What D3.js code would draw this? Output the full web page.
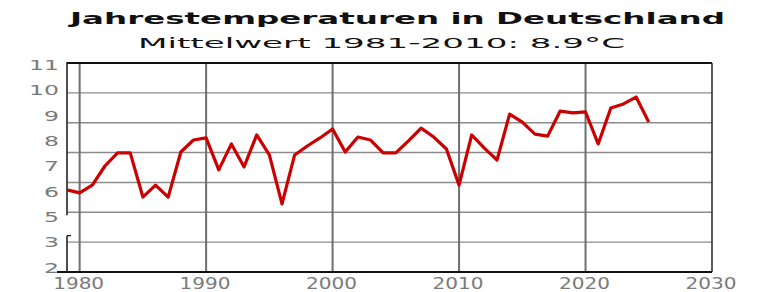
<!DOCTYPE html>
<html>
<head>
<meta charset="utf-8">
<script src="https://cdn.jsdelivr.net/npm/d3@7"></script>
<style>
body {
  margin: 0;
  background: white;
}
</style>
</head>
<body>
<div id="chart"></div>
<script>
// Jahresmittel (in Einheiten der Gitterlinien)
var years = [1979, 1980, 1981, 1982, 1983, 1984, 1985, 1986, 1987, 1988, 1989,
  1990, 1991, 1992, 1993, 1994, 1995, 1996, 1997, 1998, 1999,
  2000, 2001, 2002, 2003, 2004, 2005, 2006, 2007, 2008, 2009,
  2010, 2011, 2012, 2013, 2014, 2015, 2016, 2017, 2018, 2019,
  2020, 2021, 2022, 2023, 2024, 2025];
var temps = [6.75, 6.65, 6.91, 7.55, 7.99, 7.99, 6.51, 6.91, 6.51, 8.02, 8.42,
  8.49, 7.42, 8.29, 7.52, 8.59, 7.92, 6.28, 7.92, 8.22, 8.49,
  8.79, 8.02, 8.52, 8.42, 7.99, 7.99, 8.39, 8.82, 8.52, 8.12,
  6.91, 8.59, 8.15, 7.75, 9.29, 9.02, 8.62, 8.55, 9.39, 9.33,
  9.36, 8.29, 9.49, 9.63, 9.86, 9.02];

var xTicks = [1980, 1990, 2000, 2010, 2020, 2030];
var yGrid = [4, 5, 6, 7, 8, 9, 10];
var yLabels = ["11", "10", "9", "8", "7", "6", "5", "3", "2"];

var W = 760, H = 292;
var svg = d3.select("#chart").append("svg")
  .attr("width", W)
  .attr("height", H);

var xScale = d3.scaleLinear().domain([1979, 2030]).range([67, 712]);
var yScale = d3.scaleLinear().domain([4, 11]).range([272, 63]);
// the labels do not sit on the grid lines in the picture
var labelScale = d3.scalePoint().domain(yLabels).range([65, 268]);

var x0 = xScale(1979), x1 = xScale(2030);
var yTop = yScale(11), yBot = yScale(4);

// horizontal grid
svg.append("g").selectAll("line")
  .data(yGrid).enter().append("line")
  .attr("x1", x0).attr("x2", x1)
  .attr("y1", d => yScale(d)).attr("y2", d => yScale(d))
  .attr("stroke", "#8c8c8c")
  .attr("stroke-width", 1.4);

// vertical grid
svg.append("g").selectAll("line")
  .data(xTicks.slice(0, 5)).enter().append("line")
  .attr("x1", d => xScale(d)).attr("x2", d => xScale(d))
  .attr("y1", yTop).attr("y2", yBot)
  .attr("stroke", "#6e6e6e")
  .attr("stroke-width", 2);

// frame
svg.append("line").attr("x1", x0).attr("x2", x1).attr("y1", yTop).attr("y2", yTop)
  .attr("stroke", "#111").attr("stroke-width", 2);
svg.append("line").attr("x1", x1).attr("x2", x1).attr("y1", yTop).attr("y2", yBot)
  .attr("stroke", "#333").attr("stroke-width", 1.6);
svg.append("line").attr("x1", x0 - 10).attr("x2", x1).attr("y1", yBot).attr("y2", yBot)
  .attr("stroke", "#111").attr("stroke-width", 2);

// left axis with a break between 5 and 3
svg.append("line").attr("x1", x0).attr("x2", x0)
  .attr("y1", yTop - 1).attr("y2", labelScale("5") - 2)
  .attr("stroke", "#222").attr("stroke-width", 1.6);
svg.append("line").attr("x1", x0).attr("x2", x0)
  .attr("y1", labelScale("3") - 7).attr("y2", yBot)
  .attr("stroke", "#222").attr("stroke-width", 1.6);
svg.append("line").attr("x1", x0).attr("x2", x0 + 4)
  .attr("y1", labelScale("3") - 7).attr("y2", labelScale("3") - 7)
  .attr("stroke", "#222").attr("stroke-width", 1.4);

// data line
var line = d3.line()
  .x((d, i) => xScale(years[i]))
  .y(d => yScale(d));

svg.append("path")
  .datum(temps)
  .attr("d", line)
  .attr("fill", "none")
  .attr("stroke", "#cc0000")
  .attr("stroke-width", 3.2)
  .attr("stroke-linejoin", "round");

// y labels
svg.append("g").selectAll("text")
  .data(yLabels).enter().append("text")
  .attr("x", 59)
  .attr("y", d => labelScale(d))
  .attr("dy", "0.36em")
  .attr("text-anchor", "end")
  .attr("font-family", "DejaVu Sans")
  .attr("font-size", 13.5)
  .attr("fill", "#7a7a7a")
  .attr("textLength", d => d.length * 15)
  .attr("lengthAdjust", "spacingAndGlyphs")
  .text(d => d);

// x labels
svg.append("g").selectAll("text")
  .data(xTicks).enter().append("text")
  .attr("x", d => xScale(d) - 1)
  .attr("y", 289)
  .attr("text-anchor", "middle")
  .attr("font-family", "DejaVu Sans")
  .attr("font-size", 15)
  .attr("fill", "#7a7a7a")
  .attr("textLength", 51)
  .attr("lengthAdjust", "spacingAndGlyphs")
  .text(d => d);

// titles
svg.append("text")
  .attr("x", 70).attr("y", 24)
  .attr("font-family", "DejaVu Sans")
  .attr("font-weight", "bold")
  .attr("font-size", 15.5)
  .attr("fill", "#111")
  .attr("textLength", 655)
  .attr("lengthAdjust", "spacingAndGlyphs")
  .text("Jahrestemperaturen in Deutschland");

svg.append("text")
  .attr("x", 138).attr("y", 48)
  .attr("font-family", "DejaVu Sans")
  .attr("font-size", 13.5)
  .attr("fill", "#111")
  .attr("textLength", 487)
  .attr("lengthAdjust", "spacingAndGlyphs")
  .text("Mittelwert 1981-2010: 8.9°C");
</script>
</body>
</html>
